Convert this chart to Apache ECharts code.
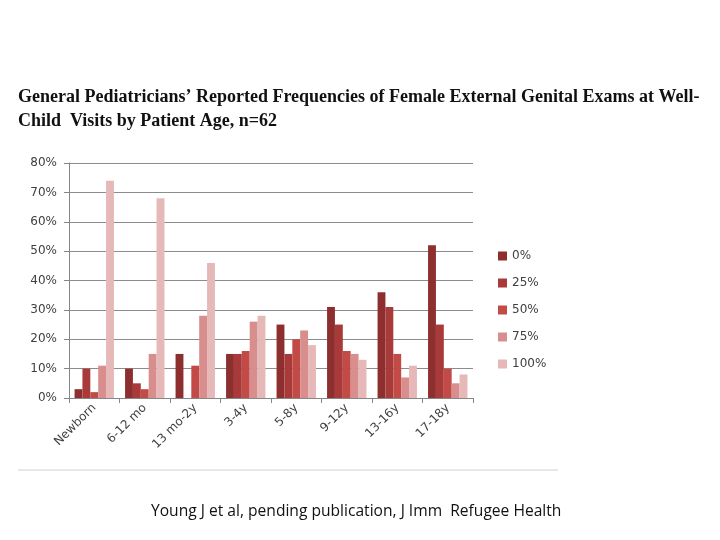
<!DOCTYPE html>
<html><head><meta charset="utf-8">
<script src="https://cdn.jsdelivr.net/npm/echarts@6/dist/echarts.min.js"></script>
<style>html,body{margin:0;padding:0;background:#fff}#c{width:720px;height:540px}</style>
</head><body><div id="c"></div>
<script>
const categories = ['Newborn','6-12 mo','13 mo-2y','3-4y','5-8y','9-12y','13-16y','17-18y'];
const seriesNames = ['0%','25%','50%','75%','100%'];
const v0 = [3, 10, 15, 15, 25, 31, 36, 52];
const v25 = [10, 5, 0, 15, 15, 25, 31, 25];
const v50 = [2, 3, 11, 16, 20, 16, 15, 10];
const v75 = [11, 15, 28, 26, 23, 15, 7, 5];
const v100 = [74, 68, 46, 28, 18, 13, 11, 8];
const yTicks = [0, 10, 20, 30, 40, 50, 60, 70, 80];
const colors = ['#8E2F2F', '#A93A3A', '#C24B48', '#D88E8C', '#E6B8B8'];
const values = [v0, v25, v50, v75, v100];

const chart = echarts.init(document.getElementById('c'));
chart.setOption({
  animation: false,
  title: {
    text: "General Pediatricians’ Reported Frequencies of Female External Genital Exams at Well-\nChild  Visits by Patient Age, n=62",
    left: 13, top: 80,
    textStyle: {fontFamily: 'Liberation Serif', fontWeight: 'bold', fontSize: 18, color: '#111', lineHeight: 24}
  },
  legend: {
    orient: 'vertical', left: 493, top: 245, itemWidth: 9, itemHeight: 9, itemGap: 15,
    icon: 'rect', data: seriesNames,
    textStyle: {fontFamily: 'DejaVu Sans', fontSize: 12, color: '#404040'}
  },
  grid: {left: 69, right: 247, top: 163, bottom: 142, containLabel: false},
  xAxis: {
    type: 'category', data: categories,
    axisLine: {show: true, lineStyle: {color: '#868686'}},
    axisTick: {show: true, length: 5, lineStyle: {color: '#868686'}},
    axisLabel: {rotate: 45, fontFamily: 'DejaVu Sans', fontSize: 12, color: '#404040', margin: 8}
  },
  yAxis: {
    type: 'value', min: 0, max: 80, interval: 10,
    axisLine: {show: true, lineStyle: {color: '#868686'}},
    axisTick: {show: true, length: 5, inside: false, lineStyle: {color: '#868686'}},
    axisLabel: {formatter: v => v + '%', fontFamily: 'DejaVu Sans', fontSize: 12, color: '#404040', margin: 12},
    splitLine: {show: true, lineStyle: {color: '#8c8c8c', width: 1}}
  },
  series: seriesNames.map((n, i) => ({
    name: n, type: 'bar', data: values[i], barGap: '0%', barCategoryGap: '22%',
    itemStyle: {color: colors[i]}
  })),
  graphic: [
    {type: 'line', shape: {x1: 18, y1: 470, x2: 558, y2: 470}, style: {stroke: '#d0d0d0', lineWidth: 1}},
    {type: 'text', left: 151, top: 504, style: {text: 'Young J et al, pending publication, J Imm  Refugee Health', font: '15.6px "Open Sans"', fill: '#111'}}
  ]
});
</script></body></html>
